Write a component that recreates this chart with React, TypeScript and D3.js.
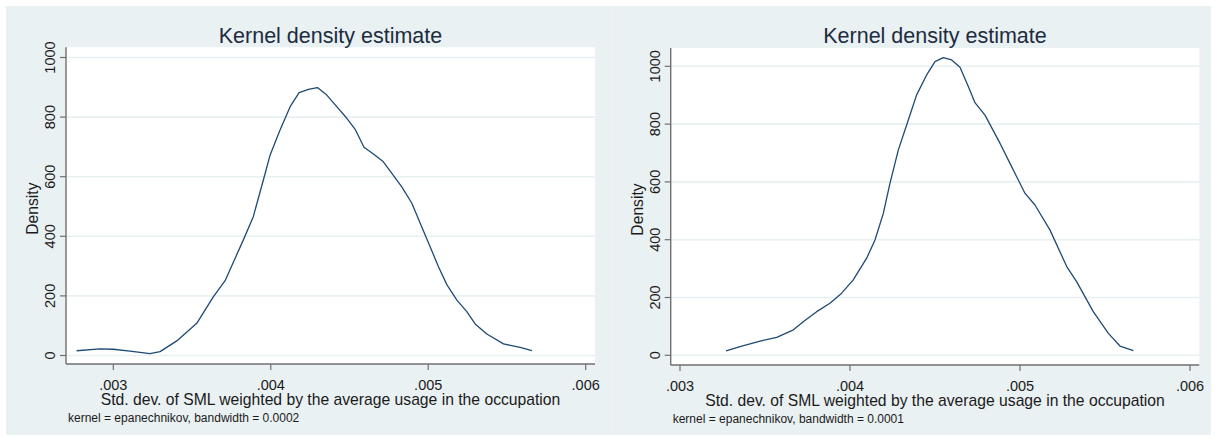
import React from "react";
import * as d3 from "d3";

// ---------- data ----------
const leftX = [0.002767, 0.002915, 0.003, 0.003106, 0.003233, 0.003297, 0.003403, 0.00353, 0.003635, 0.00371, 0.003826, 0.003889, 0.003953, 0.003996, 0.004059, 0.004123, 0.00418, 0.004239, 0.004296, 0.004356, 0.004419, 0.004483, 0.004536, 0.004592, 0.004652, 0.004715, 0.004769, 0.004832, 0.004896, 0.004949, 0.005012, 0.005065, 0.005119, 0.005182, 0.005245, 0.005298, 0.005372, 0.005478, 0.005584, 0.005658];
const leftY = [16, 22, 21, 15, 6, 13, 49, 108, 197, 251, 388, 466, 589, 673, 757, 835, 882, 893, 899, 874, 835, 796, 759, 699, 676, 650, 611, 566, 511, 444, 365, 298, 237, 186, 147, 106, 72, 39, 27, 16];

const rightX = [0.003271, 0.003353, 0.003471, 0.003569, 0.003667, 0.003725, 0.003804, 0.003882, 0.003951, 0.004019, 0.004098, 0.004147, 0.004196, 0.004235, 0.004284, 0.004343, 0.004392, 0.004451, 0.0045, 0.004549, 0.004598, 0.004647, 0.004696, 0.004735, 0.004794, 0.004882, 0.004941, 0.005029, 0.005088, 0.005176, 0.005275, 0.005333, 0.005431, 0.00552, 0.005588, 0.005667];
const rightY = [15, 30, 49, 62, 88, 116, 151, 180, 215, 261, 336, 399, 491, 595, 710, 814, 901, 970, 1016, 1030, 1022, 997, 930, 874, 831, 734, 664, 561, 520, 434, 307, 255, 151, 76, 32, 16];

const xTicks = [0.003, 0.004, 0.005, 0.006];
const yTicks = [0, 200, 400, 600, 800, 1000];
const titleText = "Kernel density estimate";
const xTitle = "Std. dev. of SML weighted by the average usage in the occupation";
const yTitle = "Density";
const leftNote = "kernel = epanechnikov, bandwidth = 0.0002";
const rightNote = "kernel = epanechnikov, bandwidth = 0.0001";

// ---------- styles ----------
const BG = "#eaf1f3";
const GRID = "#e9f0f2";
const LINE = "#1f4a73";
const AXIS = "#6f6f6f";
const TEXT = "#1a1a1a";
const TITLE = "#1d2c40";
const FONT = "'Liberation Sans', Arimo, Arial, sans-serif";

const fmtX = (v: number) => d3.format(".3f")(v).replace(/^0/, "");

type PanelProps = {
  plot: { l: number; r: number; t: number; b: number };
  xRange: [number, number];
  yRange: [number, number];
  xs: number[];
  ys: number[];
  note: string;
};

function Panel({ plot, xRange, yRange, xs, ys, note }: PanelProps) {
  const x = d3.scaleLinear().domain([0.003, 0.006]).range(xRange);
  const y = d3.scaleLinear().domain([0, 1000]).range(yRange);
  const line = d3
    .line<number>()
    .x((_, i) => x(xs[i]))
    .y((d) => y(d))
    .curve(d3.curveLinear);
  const cx = (plot.l + plot.r) / 2;
  return (
    <g>
      <rect x={plot.l} y={plot.t} width={plot.r - plot.l} height={plot.b - plot.t} fill="#ffffff" />
      {yTicks.map((t) => (
        <line key={"g" + t} x1={plot.l} x2={plot.r} y1={y(t)} y2={y(t)} stroke={GRID} strokeWidth={1.6} />
      ))}
      <path d={line(ys) || ""} fill="none" stroke={LINE} strokeWidth={1.3} strokeLinejoin="round" />
      <line x1={plot.l} x2={plot.l} y1={plot.t} y2={plot.b} stroke={AXIS} strokeWidth={1.4} />
      <line x1={plot.l} x2={plot.r} y1={plot.b} y2={plot.b} stroke={AXIS} strokeWidth={1.4} />
      {yTicks.map((t) => (
        <g key={"y" + t}>
          <line x1={plot.l - 6} x2={plot.l} y1={y(t)} y2={y(t)} stroke={AXIS} strokeWidth={1.2} />
          <text
            transform={`translate(${plot.l - 11},${y(t)}) rotate(-90)`}
            textAnchor="middle"
            fontFamily={FONT}
            fontSize={14.5}
            fill={TEXT}
          >
            {t}
          </text>
        </g>
      ))}
      {xTicks.map((t) => (
        <g key={"x" + t}>
          <line x1={x(t)} x2={x(t)} y1={plot.b} y2={plot.b + 6} stroke={AXIS} strokeWidth={1.2} />
          <text x={x(t)} y={plot.b + 26} textAnchor="middle" fontFamily={FONT} fontSize={14.5} fill={TEXT}>
            {fmtX(t)}
          </text>
        </g>
      ))}
      <text x={cx} y={43} textAnchor="middle" fontFamily={FONT} fontSize={21.5} fill={TITLE}>
        {titleText}
      </text>
      <text x={cx} y={plot.b + 41} textAnchor="middle" fontFamily={FONT} fontSize={15.7} fill={TEXT}>
        {xTitle}
      </text>
      <text
        transform={`translate(${plot.l - 28},${(plot.t + plot.b) / 2 + 3}) rotate(-90)`}
        textAnchor="middle"
        fontFamily={FONT}
        fontSize={15.7}
        fill={TEXT}
      >
        {yTitle}
      </text>
      <text x={plot.l + 2} y={plot.b + 57.5} fontFamily={FONT} fontSize={12} fill={TEXT}>
        {note}
      </text>
    </g>
  );
}

export default function App() {
  return (
    <svg
      width={1216}
      height={438}
      style={{ position: "fixed", left: 0, top: 0, background: "#ffffff" }}
    >
      <rect x={6} y={6} width={1205} height={429} fill={BG} />
      <line x1={611.5} x2={611.5} y1={6} y2={435} stroke="#eef4f5" strokeWidth={1} />
      <Panel
        plot={{ l: 66, r: 595, t: 47.3, b: 364 }}
        xRange={[113.3, 585.7]}
        yRange={[355.5, 57.5]}
        xs={leftX}
        ys={leftY}
        note={leftNote}
      />
      <Panel
        plot={{ l: 670.7, r: 1199.3, t: 48, b: 365 }}
        xRange={[680, 1190]}
        yRange={[355.3, 66.3]}
        xs={rightX}
        ys={rightY}
        note={rightNote}
      />
    </svg>
  );
}
